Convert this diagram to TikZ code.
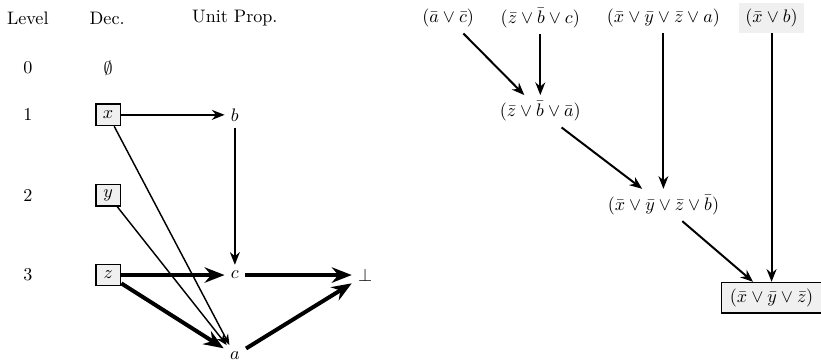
\documentclass[tikz,border=0pt]{standalone}
\usepackage{amsmath,amssymb}
\definecolor{clgray}{RGB}{240,240,240}
\usetikzlibrary{arrows.meta}

\begin{document}
\begin{tikzpicture}[
  dec/.style={draw, fill=clgray, line width=0.9pt, minimum width=0.48cm, minimum height=0.41cm, inner sep=1pt},
  lnk/.style={-{Stealth[length=6pt,width=4.5pt]}, thick},
  imp/.style={-{Stealth[length=7pt,width=5.5pt]}, line width=1.1pt},
  confl/.style={-{Stealth[length=11pt,width=8.5pt]}, line width=2.2pt}
]
  \useasboundingbox (0,0) rectangle (15.94,7.01);

  %% Header
  \node (hlev)  at (0.54,6.66) {Level};
  \node (hdec)  at (2.08,6.66) {Dec.};
  \node (hunit) at (4.56,6.66) {Unit Prop.};

  %% Levels
  \node (l0) at (0.54,5.69) {0};
  \node (l1) at (0.54,4.78) {1};
  \node (l2) at (0.54,3.22) {2};
  \node (l3) at (0.54,1.67) {3};

  %% Decisions
  \node (empty) at (2.10,5.69) {$\emptyset$};
  \node[dec] (x) at (2.10,4.78) {$x$};
  \node[dec] (y) at (2.10,3.22) {$y$};
  \node[dec] (z) at (2.10,1.67) {$z$};

  %% Implied literals
  \node (b)   at (4.56,4.78) {$b$};
  \node (c)   at (4.56,1.67) {$c$};
  \node (a)   at (4.56,0.11) {$a$};
  \node (bot) at (7.09,1.67) {$\bot$};

  \draw[imp]   (x) -- (b);
  \draw[imp]   (b) -- (c);
  \draw[lnk]   (x) -- (a);
  \draw[lnk]   (y) -- (a);
  \draw[confl] (z) -- (c);
  \draw[confl] (z) -- (a);
  \draw[confl] (c) -- (bot);
  \draw[confl] (a) -- (bot);

  %% Resolution steps
  \node (c1) at (8.70,6.66)  {$(\bar a \lor \bar c)$};
  \node (c2) at (10.49,6.66) {$(\bar z \lor \bar b \lor c)$};
  \node (c3) at (12.88,6.66) {$(\bar x \lor \bar y \lor \bar z \lor a)$};
  \node[fill=clgray] (c4) at (14.98,6.66) {$(\bar x \lor b)$};
  \node (r1) at (10.49,4.85) {$(\bar z \lor \bar b \lor \bar a)$};
  \node (r2) at (12.88,3.03) {$(\bar x \lor \bar y \lor \bar z \lor \bar b)$};
  \node[draw, fill=clgray, line width=0.9pt, minimum width=1.95cm] (learn) at (14.98,1.23) {$(\bar x \lor \bar y \lor \bar z)$};

  \draw[imp] (c1) -- (r1);
  \draw[imp] (c2) -- (r1);
  \draw[imp] (r1) -- (r2);
  \draw[imp] (c3) -- (r2);
  \draw[imp] (r2) -- (learn);
  \draw[imp] (c4) -- (learn);
\end{tikzpicture}
\end{document}
